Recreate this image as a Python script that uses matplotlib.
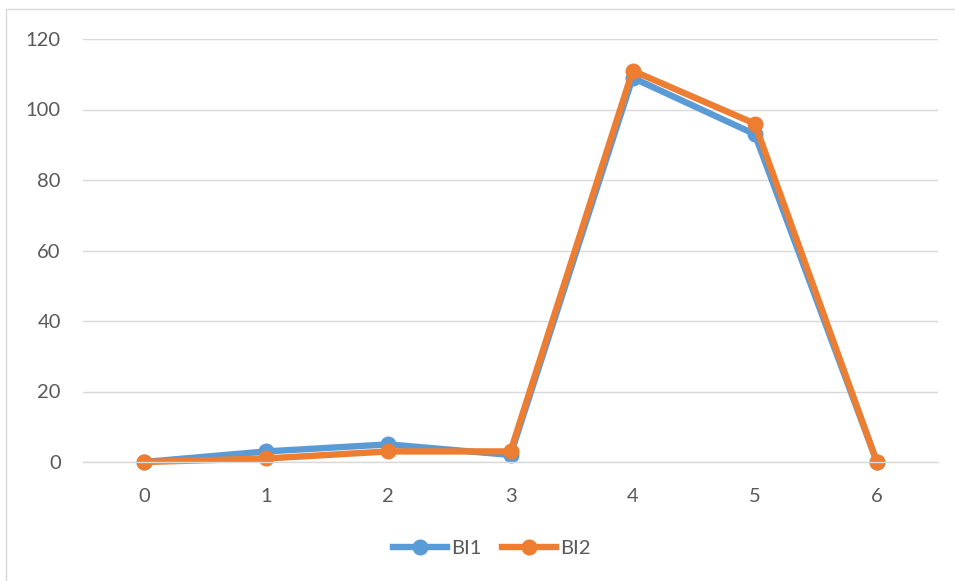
import matplotlib
matplotlib.use("Agg")
import matplotlib.pyplot as plt
from matplotlib.patches import Rectangle

x_vals = [0, 1, 2, 3, 4, 5, 6]
bi1 = [0, 3, 5, 2, 109, 93, 0]
bi2 = [0, 1, 3, 3, 111, 96, 0]
y_ticks = [0, 20, 40, 60, 80, 100, 120]

plt.rcParams['font.family'] = ['Lato', 'DejaVu Sans']

W, H = 955, 581
fig = plt.figure(figsize=(W / 100, H / 100), dpi=100)
fig.patch.set_facecolor('white')

# chart-area frame
fig.add_artist(Rectangle((6 / W, -0.1), 1.2, 1.1 - 9 / H, transform=fig.transFigure,
                         fill=False, edgecolor='#D9D9D9', linewidth=1.0))

ax = fig.add_axes([83 / W, 1 - 462 / H, (938 - 83) / W, (462 - 39) / H])
ax.set_xlim(-0.5, 6.5)
ax.set_ylim(0, 120)

for s in ax.spines.values():
    s.set_visible(False)
ax.spines['bottom'].set_visible(True)
ax.spines['bottom'].set_color('#D9D9D9')
ax.spines['bottom'].set_linewidth(1.0)

ax.set_yticks(y_ticks)
ax.set_xticks(x_vals)
ax.yaxis.grid(True, color='#D9D9D9', linewidth=1.0)
ax.set_axisbelow(True)
ax.tick_params(axis='both', length=0, labelsize=14.5, labelcolor='#595959')
ax.tick_params(axis='x', pad=18.5)
ax.tick_params(axis='y', pad=16)

ax.plot(x_vals, bi1, color='#5B9BD5', linewidth=4.6, marker='o', markersize=10.5,
        solid_joinstyle='round', label='BI1', clip_on=False)
ax.plot(x_vals, bi2, color='#ED7D31', linewidth=4.6, marker='o', markersize=10.5,
        solid_joinstyle='round', label='BI2', clip_on=False)

leg = fig.legend(loc='center', bbox_to_anchor=(492 / W, 1 - 548 / H), ncol=2, frameon=False,
                 fontsize=14.5, handlelength=2.7, columnspacing=1.0, handletextpad=0.2)
for t in leg.get_texts():
    t.set_color('#595959')

fig.savefig('out.png', dpi=100, facecolor='white')
